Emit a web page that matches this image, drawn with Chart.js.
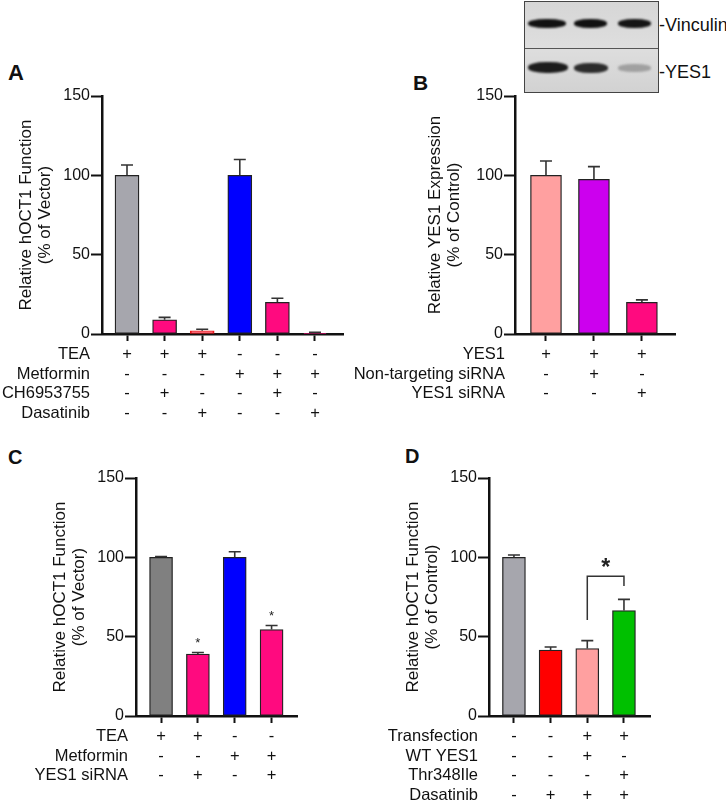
<!DOCTYPE html>
<html>
<head>
<meta charset="utf-8">
<script src="https://cdn.jsdelivr.net/npm/chart.js@4.4.1/dist/chart.umd.min.js"></script>
<style>
body { margin: 0; background: #fff; width: 726px; height: 802px; position: relative; overflow: hidden; font-family: "Liberation Sans", Arial, sans-serif; color: #111; }
canvas { position: absolute; }
.letter { position: absolute; font-weight: bold; line-height: 1; }
.blot { position: absolute; left: 524px; top: 1px; width: 133px; height: 90px; border: 1px solid #444; background: linear-gradient(#d6d6d6, #dedede 50%, #d2d2d2); overflow: hidden; }
.blot .sep { position: absolute; left: 0; right: 0; top: 46px; height: 1px; background: #555; }
.band { position: absolute; border-radius: 45%; filter: blur(1.2px); }
.blabel { position: absolute; left: 659px; font-size: 18px; line-height: 1; white-space: nowrap; }
</style>
</head>
<body>

<div class="letter" style="left:8px;top:62px;font-size:22px">A</div>
<div class="letter" style="left:413px;top:72px;font-size:21px">B</div>
<div class="letter" style="left:8px;top:447px;font-size:20px">C</div>
<div class="letter" style="left:405px;top:446px;font-size:20px">D</div>

<div class="blot">
  <div class="band" style="left:3px;top:17px;width:38px;height:9px;background:#111"></div>
  <div class="band" style="left:49px;top:17px;width:33px;height:9px;background:#111"></div>
  <div class="band" style="left:93px;top:17px;width:33px;height:9px;background:#151515"></div>
  <div class="sep"></div>
  <div class="band" style="left:3px;top:60px;width:40px;height:11px;background:#1c1c1c"></div>
  <div class="band" style="left:49px;top:61px;width:34px;height:10px;background:#2c2c2c"></div>
  <div class="band" style="left:93px;top:62px;width:33px;height:8px;background:#a0a0a0"></div>
</div>
<div class="blabel" style="top:16px">-Vinculin</div>
<div class="blabel" style="top:63px">-YES1</div>

<canvas id="chartA" width="363" height="380" style="left:0;top:40px"></canvas>
<canvas id="chartB" width="386" height="380" style="left:340px;top:40px"></canvas>
<canvas id="chartC" width="363" height="382" style="left:0;top:420px"></canvas>
<canvas id="chartD" width="363" height="382" style="left:363px;top:420px"></canvas>

<script>
Chart.defaults.font.family = '"Liberation Sans", Arial, sans-serif';
Chart.defaults.color = '#111';

var yTicks = [0, 50, 100, 150];

// A
var aRows = ["TEA", "Metformin", "CH6953755", "Dasatinib"];
var aSigns = [
  ["+", "+", "+", "-", "-", "-"],
  ["-", "-", "-", "+", "+", "+"],
  ["-", "+", "-", "-", "+", "-"],
  ["-", "-", "+", "-", "-", "+"]
];
var aValues = [100, 9, 2, 100, 20, 0.5];
var aErrTop = [106.5, 10.5, 3, 110, 22.5, 1];
var aColors = ["#a6a6ad", "#ff0a7f", "#ff3a5a", "#0000ff", "#ff0a7f", "#ff0a7f"];
var aBorders = ["#222", "#222", "#e81818", "#222", "#222", "#222"];

// B
var bRows = ["YES1", "Non-targeting siRNA", "YES1 siRNA"];
var bSigns = [
  ["+", "+", "+"],
  ["-", "+", "-"],
  ["-", "-", "+"]
];
var bValues = [100, 97.5, 20];
var bErrTop = [109, 105.5, 21.5];
var bColors = ["#ffa0a0", "#cc00ee", "#ff0a7f"];

// C
var cRows = ["TEA", "Metformin", "YES1 siRNA"];
var cSigns = [
  ["+", "+", "-", "-"],
  ["-", "-", "+", "+"],
  ["-", "+", "-", "+"]
];
var cValues = [100, 39, 100, 54.5];
var cErrTop = [100.5, 40, 103.5, 57];
var cStarAt = [null, 48, null, 65];
var cColors = ["#808080", "#ff0a7f", "#0000ff", "#ff0a7f"];

// D
var dRows = ["Transfection", "WT YES1", "Thr348Ile", "Dasatinib"];
var dSigns = [
  ["-", "-", "+", "+"],
  ["-", "-", "+", "-"],
  ["-", "-", "-", "+"],
  ["-", "+", "+", "+"]
];
var dValues = [100, 41.5, 42.5, 66.5];
var dErrTop = [101.5, 43.5, 47.5, 73.5];
var dBracketBars = [2, 3];
var dBracketTop = 88;
var dBracketLegs = [60.5, 82];
var dStarAt = 97;
var dColors = ["#a6a6ad", "#ff0000", "#ffa0a0", "#00c000"];

var errorBars = {
  id: 'errorBars',
  afterDatasetsDraw: function (chart, args, opts) {
    var ctx = chart.ctx, y = chart.scales.y;
    var meta = chart.getDatasetMeta(0);
    ctx.save();
    ctx.strokeStyle = '#333';
    ctx.lineWidth = 1.6;
    meta.data.forEach(function (bar, i) {
      var top = y.getPixelForValue(opts.top[i]);
      ctx.beginPath();
      ctx.moveTo(bar.x, bar.y);
      ctx.lineTo(bar.x, top);
      ctx.moveTo(bar.x - 6, top);
      ctx.lineTo(bar.x + 6, top);
      ctx.stroke();
    });
    ctx.restore();
  }
};

// +/- table under the x axis
var signTable = {
  id: 'signTable',
  afterDraw: function (chart, args, opts) {
    var ctx = chart.ctx, x = chart.scales.x, area = chart.chartArea;
    ctx.save();
    ctx.font = '16.5px "Liberation Sans", Arial, sans-serif';
    ctx.fillStyle = '#111';
    ctx.textBaseline = 'middle';
    opts.rows.forEach(function (name, r) {
      var yy = area.bottom + 20.5 + r * 19.5;
      ctx.textAlign = 'right';
      ctx.fillText(name, area.left + opts.labelDx, yy);
      ctx.textAlign = 'center';
      opts.signs[r].forEach(function (s, i) {
        ctx.fillText(s, x.getPixelForValue(i), yy);
      });
    });
    ctx.restore();
  }
};

var marks = {
  id: 'marks',
  afterDraw: function (chart, args, opts) {
    var ctx = chart.ctx, x = chart.scales.x, y = chart.scales.y;
    ctx.save();
    ctx.fillStyle = '#222';
    ctx.textAlign = 'center';
    ctx.textBaseline = 'alphabetic';
    if (opts.stars) {
      ctx.font = '13px "Liberation Sans", Arial, sans-serif';
      opts.stars.forEach(function (v, i) {
        if (v == null) return;
        ctx.fillText('*', x.getPixelForValue(i), y.getPixelForValue(v) + 0.57 * 13);
      });
    }
    if (opts.bracket) {
      var b = opts.bracket;
      var x1 = x.getPixelForValue(b.bars[0]), x2 = x.getPixelForValue(b.bars[1]);
      ctx.strokeStyle = '#333';
      ctx.lineWidth = 1.5;
      ctx.beginPath();
      ctx.moveTo(x1, y.getPixelForValue(b.legs[0]));
      ctx.lineTo(x1, y.getPixelForValue(b.top));
      ctx.lineTo(x2, y.getPixelForValue(b.top));
      ctx.lineTo(x2, y.getPixelForValue(b.legs[1]));
      ctx.stroke();
      ctx.font = 'bold 23px "Liberation Sans", Arial, sans-serif';
      ctx.fillText('*', (x1 + x2) / 2, y.getPixelForValue(b.star) + 0.57 * 23);
    }
    ctx.restore();
  }
};

function panel(id, p) {
  new Chart(document.getElementById(id), {
    type: 'bar',
    data: {
      datasets: [{
        data: p.values.map(function (v, i) { return { x: i, y: v }; }),
        backgroundColor: p.colors,
        borderColor: p.borders || '#222',
        borderWidth: 1.3,
        borderSkipped: false,
        barThickness: p.bar
      }]
    },
    options: {
      responsive: false,
      animation: false,
      layout: { padding: { left: p.padLeft, top: p.padTop, right: p.padRight, bottom: 0 } },
      plugins: {
        legend: { display: false },
        tooltip: { enabled: false },
        errorBars: { top: p.err },
        signTable: { rows: p.rows, signs: p.signs, labelDx: p.labelDx },
        marks: { stars: p.stars, bracket: p.bracket }
      },
      scales: {
        x: {
          type: 'linear',
          offset: false,
          min: p.xmin,
          max: p.xmax,
          afterFit: function (s) { s.height = 86; },
          afterBuildTicks: function (s) { s.ticks = p.values.map(function (v, i) { return { value: i }; }); },
          ticks: { display: false },
          grid: { offset: false, drawOnChartArea: false, tickLength: 7, tickWidth: 2, color: '#111' },
          border: { width: 2.5, color: '#111' }
        },
        y: {
          min: 0,
          max: 150,
          afterFit: function (s) { s.width = p.yw; },
          afterBuildTicks: function (s) { s.ticks = yTicks.map(function (v) { return { value: v }; }); },
          ticks: { font: { size: 16 }, color: '#111', padding: 1 },
          grid: { drawOnChartArea: false, tickLength: 11, tickWidth: 2, color: '#111' },
          border: { width: 2.5, color: '#111' },
          title: { display: true, text: p.title, color: '#111', font: { size: 17, lineHeight: 1.1 }, padding: { top: 17, bottom: 0 } }
        }
      }
    },
    plugins: [errorBars, signTable, marks]
  });
}

panel('chartA', {
  values: aValues, err: aErrTop, colors: aColors, borders: aBorders, rows: aRows, signs: aSigns,
  title: ['Relative hOCT1 Function', '(% of Vector)'],
  bar: 24, padLeft: 0, yw: 102, padTop: 56, padRight: 20, xmin: -0.665, xmax: 5.745, labelDx: -12
});
panel('chartB', {
  values: bValues, err: bErrTop, colors: bColors, rows: bRows, signs: bSigns,
  title: ['Relative YES1 Expression', '(% of Control)'],
  bar: 31, padLeft: 69, yw: 106, padTop: 56, padRight: 51, xmin: -0.646, xmax: 2.69, labelDx: -10
});
panel('chartC', {
  values: cValues, err: cErrTop, colors: cColors, rows: cRows, signs: cSigns, stars: cStarAt,
  title: ['Relative hOCT1 Function', '(% of Vector)'],
  bar: 23, padLeft: 34, yw: 102, padTop: 58, padRight: 66, xmin: -0.68, xmax: 3.69, labelDx: -8
});
panel('chartD', {
  values: dValues, err: dErrTop, colors: dColors, rows: dRows, signs: dSigns,
  bracket: { bars: dBracketBars, top: dBracketTop, legs: dBracketLegs, star: dStarAt },
  title: ['Relative hOCT1 Function', '(% of Control)'],
  bar: 23, padLeft: 24, yw: 102, padTop: 58, padRight: 76, xmin: -0.68, xmax: 3.71, labelDx: -11
});
</script>
</body>
</html>
